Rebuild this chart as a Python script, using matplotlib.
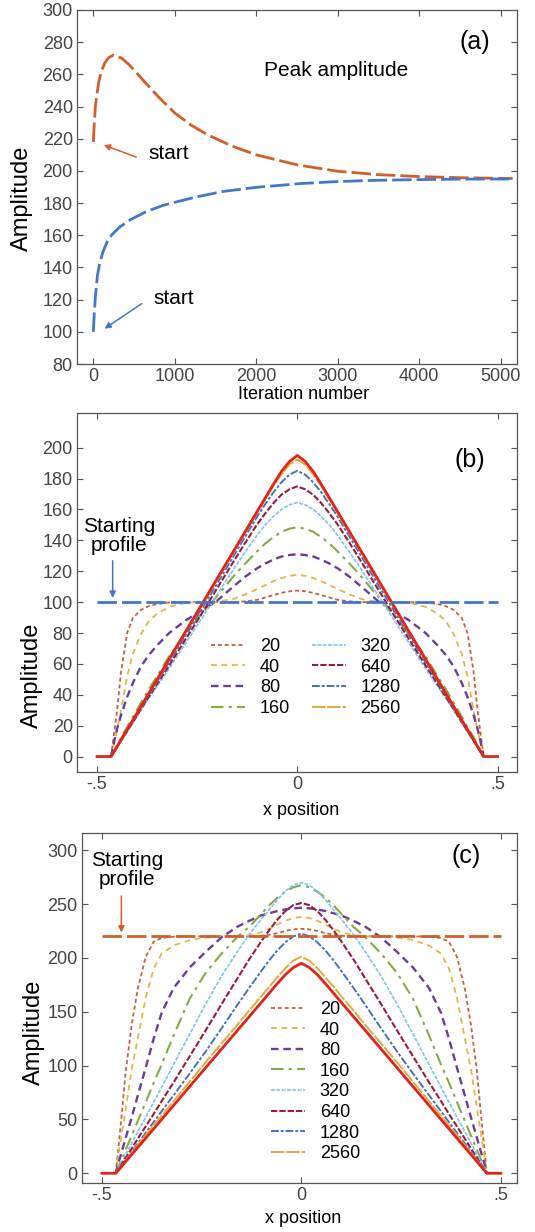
import matplotlib.pyplot as plt

plt.rcParams['font.family'] = ['Liberation Sans', 'DejaVu Sans']

# ---- panel (a): peak amplitude vs iteration ----
iter_high = [0, 10, 25, 45, 70, 100, 140, 190, 250, 350, 450, 600, 800, 1000, 1200,
             1400, 1700, 2000, 2500, 3000, 3500, 4000, 4500, 5000, 5150]
peak_high = [218, 228, 240, 248, 256, 262, 267, 270.5, 272, 270, 265.5, 257, 246, 236, 228.5,
             222.5, 215.5, 210, 203.8, 199.8, 197.7, 196.5, 195.8, 195.4, 195.3]
iter_low = [0, 10, 25, 50, 80, 120, 170, 230, 320, 450, 640, 850, 1000, 1280, 1600,
            2000, 2560, 3000, 3500, 4000, 4500, 5150]
peak_low = [100, 110, 122, 135, 143, 150, 156, 160.5, 165, 169.5, 174.5, 178.5, 180.5, 184, 187.3,
            189.8, 192.2, 193.4, 194.2, 194.6, 194.9, 195]

# ---- profiles: half profiles (x >= 0), mirrored for x < 0 ----
x_half = [0, 0.02, 0.04, 0.06, 0.08, 0.10, 0.13, 0.16, 0.20, 0.24, 0.28, 0.32,
          0.35, 0.37, 0.39, 0.41, 0.425, 0.44, 0.45, 0.458, 0.465]
iterations = ['20', '40', '80', '160', '320', '640', '1280', '2560']

final_profile = [195, 191, 184.5, 176.2, 167.5, 158.8, 145.7, 132.7, 115.3, 97.9, 80.5, 63.1,
                 50, 41.3, 32.6, 23.9, 17.4, 10.9, 6.5, 3, 0]

b_start = 100
b_20 = [107.5, 107, 106, 104.5, 103, 101.5, 100.5, 100, 100, 100, 100, 99.8,
        98.8, 97.5, 95, 90, 80, 55, 30, 14, 0]
b_40 = [117.6, 117, 115.5, 113.5, 111, 108.5, 105, 102, 100.3, 100, 99.5, 97,
        92.5, 88, 79.5, 67, 52, 30, 17, 8, 0]
b_80 = [131, 130.5, 129.5, 127.5, 125, 122, 116.5, 110, 101, 94.5, 88, 80,
        72, 66, 58.5, 48, 38.5, 27, 18, 9, 0]
b_160 = [148.5, 147.5, 145.5, 142, 138, 133, 125, 116.5, 104, 92, 79, 65,
         52, 44, 35, 26, 19, 12.5, 7.5, 3.5, 0]
b_320 = [164.5, 163, 160, 155.5, 150, 143.5, 132.5, 121, 105, 89, 73, 57,
         45.5, 38, 30, 22, 16, 10, 6, 2.7, 0]
b_640 = [175, 173, 169.5, 164, 157.5, 150.5, 138.5, 126, 109, 92, 75.5, 59,
         47, 39, 31, 22.5, 16.4, 10.3, 6.2, 2.8, 0]
b_1280 = [185, 182.5, 177.5, 171, 163.5, 155.5, 142.5, 129.5, 112, 95, 78, 61,
          48.5, 40, 31.5, 23, 16.8, 10.5, 6.3, 2.9, 0]
b_2560 = [192.5, 189, 182.5, 175, 166.5, 158, 145, 132, 114.5, 97, 80, 62.5,
          49.5, 41, 32.3, 23.7, 17.2, 10.8, 6.5, 3, 0]

c_start = 220
c_20 = [227, 226.5, 225, 223, 221.5, 220.5, 220, 220, 220, 220, 220, 219.7,
        218.5, 215, 201, 171, 138, 95, 55, 25, 0]
c_40 = [238, 237, 234.5, 231, 227, 224, 221, 220, 219.8, 218.8, 216.5, 211.5,
        204, 190, 163, 125, 97, 60, 37, 18, 0]
c_80 = [246.5, 246, 245, 243.5, 241.5, 239.5, 234.5, 229, 219, 205.5, 191, 172,
        149, 125, 98, 72, 52, 33, 20, 10, 0]
c_160 = [267.5, 265.5, 261.5, 256, 249, 241, 229, 219.5, 204, 186, 162, 128,
         101, 84, 66, 48.5, 35, 22, 13, 6, 0]
c_320 = [270, 267.5, 262, 254, 245, 236, 222, 206, 183, 157, 129, 101,
         80, 66, 52, 38.5, 28, 17.5, 10.5, 5, 0]
c_640 = [251, 249, 243.5, 235.5, 226, 215.5, 199, 181, 157, 132.5, 108.5, 84.5,
         67, 55, 43.5, 32, 23, 14.5, 8.5, 4, 0]
c_1280 = [222.5, 220, 214.5, 207, 198, 188, 172.5, 156.5, 134.5, 113, 92.5, 72.5,
          57.5, 47.5, 37.5, 27.5, 20, 12.5, 7.5, 3.5, 0]
c_2560 = [201, 197.5, 190.5, 182, 173.5, 164.5, 151.5, 138, 120.5, 103, 85, 67,
          53.5, 44.5, 35.5, 26, 19, 12, 7, 3.2, 0]

domain = [-0.5, 0.5]

colors = ['#c4623e', '#e8b347', '#6b3d97', '#87aa45', '#7fc4ee', '#9c1b3c', '#4373bf', '#e6aa3c']
styles = [(0, (2.2, 1.6)), (0, (3.2, 2.6)), (0, (3.2, 2)), (0, (6, 2.5, 1.5, 2.5)),
          (0, (2.4, 0.8)), (0, (3, 1)), (0, (4, 1, 1.5, 1)), (0, (7, 0.8))]
widths = [1.3, 1.3, 1.7, 1.5, 1.2, 1.5, 1.4, 1.4]
red = '#e2231a'
blue_a = '#4477c8'
orange_a = '#cf5f2c'
spine_col = '#555555'
tick_col = '#444444'


def mirror(half):
    return half[::-1] + half[1:]


x_full = [-v for v in x_half[::-1]] + x_half[1:]
x_red = [domain[0]] + x_full + [domain[1]]
y_red = [0] + mirror(final_profile) + [0]


def style_axes(ax):
    for s in ax.spines.values():
        s.set_color(spine_col)
        s.set_linewidth(0.9)
    ax.tick_params(direction='in', length=4, width=0.8, color=spine_col,
                   top=True, right=True, labelsize=13, labelcolor=tick_col, pad=3)


fig = plt.figure(figsize=(5.35, 12.32), dpi=100)

# ---------------- (a) ----------------
ax = fig.add_axes([0.144, 0.7045, 0.822, 0.2874])
ax.plot(iter_high, peak_high, color=orange_a, lw=2, linestyle=(0, (7, 1.8)))
ax.plot(iter_low, peak_low, color=blue_a, lw=2, linestyle=(0, (7, 1.8)))
ax.set_xlim(-200, 5200)
ax.set_ylim(80, 300)
ax.set_xticks(range(0, 5001, 1000))
ax.set_yticks(range(80, 301, 20))
style_axes(ax)
ax.set_ylabel('Amplitude', fontsize=17)
ax.yaxis.set_label_coords(-0.10, 0.469)
ax.set_xlabel('Iteration number', fontsize=13)
ax.xaxis.set_label_coords(0.514, -0.062)
ax.text(4684, 280, '(a)', fontsize=18, ha='center', va='center')
ax.text(2979, 262.7, 'Peak amplitude', fontsize=15, ha='center', va='center')
ax.text(921, 211, 'start', fontsize=15, ha='center', va='center')
ax.text(984, 121, 'start', fontsize=15, ha='center', va='center')
ax.annotate('', xy=(96, 216.7), xytext=(559, 208),
            arrowprops=dict(arrowstyle='-|>', color=orange_a, lw=1.1, mutation_scale=9))
ax.annotate('', xy=(109, 101), xytext=(622, 118.5),
            arrowprops=dict(arrowstyle='-|>', color=blue_a, lw=1.1, mutation_scale=9))

# ---------------- (b) ----------------
ax = fig.add_axes([0.144, 0.3734, 0.822, 0.2914])
b_series = [b_20, b_40, b_80, b_160, b_320, b_640, b_1280, b_2560]
for lab, ys, c, ls, lw in zip(iterations, b_series, colors, styles, widths):
    ax.plot(x_full, mirror(ys), color=c, linestyle=ls, lw=lw, label=lab)
ax.plot(x_red, y_red, color=red, lw=2.0)
ax.plot(domain, [b_start, b_start], color=blue_a, lw=2, linestyle=(0, (7, 1.8)))
ax.set_xlim(-0.55, 0.548)
ax.set_ylim(-10, 222.5)
ax.set_xticks([-0.5, 0, 0.5])
ax.set_xticklabels(['-.5', '0', '.5'])
ax.set_yticks(range(0, 201, 20))
style_axes(ax)
ax.set_ylabel('Amplitude', fontsize=17)
ax.yaxis.set_label_coords(-0.077, 0.27)
ax.set_xlabel('x position', fontsize=13)
ax.xaxis.set_label_coords(0.51, -0.083)
ax.text(0.431, 192, '(b)', fontsize=18, ha='center', va='center')
ax.text(-0.444, 143, 'Starting\nprofile', fontsize=15, ha='center', va='center', linespacing=1.0)
ax.annotate('', xy=(-0.461, 101), xytext=(-0.461, 128.6),
            arrowprops=dict(arrowstyle='-|>', color=blue_a, lw=1.1, mutation_scale=9))
ax.legend(ncol=2, loc='upper left', bbox_to_anchor=(0.305, 0.373), frameon=False,
          fontsize=13, handlelength=1.9, handletextpad=0.8, columnspacing=1.2,
          labelspacing=0.2, borderpad=0, borderaxespad=0)

# ---------------- (c) ----------------
ax = fig.add_axes([0.153, 0.0398, 0.813, 0.2841])
c_series = [c_20, c_40, c_80, c_160, c_320, c_640, c_1280, c_2560]
for lab, ys, c, ls, lw in zip(iterations, c_series, colors, styles, widths):
    ax.plot(x_full, mirror(ys), color=c, linestyle=ls, lw=lw, label=lab)
ax.plot(x_red, y_red, color=red, lw=2.0)
ax.plot(domain, [c_start, c_start], color=orange_a, lw=2, linestyle=(0, (7, 1.8)))
ax.set_xlim(-0.55, 0.54)
ax.set_ylim(-9, 316)
ax.set_xticks([-0.5, 0, 0.5])
ax.set_xticklabels(['-.5', '0', '.5'])
ax.set_yticks(range(0, 301, 50))
style_axes(ax)
ax.set_ylabel('Amplitude', fontsize=17)
ax.yaxis.set_label_coords(-0.085, 0.429)
ax.set_xlabel('x position', fontsize=13)
ax.xaxis.set_label_coords(0.509, -0.077)
ax.text(0.414, 295, '(c)', fontsize=18, ha='center', va='center')
ax.text(-0.436, 282, 'Starting\nprofile', fontsize=15, ha='center', va='center', linespacing=1.0)
ax.annotate('', xy=(-0.451, 221), xytext=(-0.451, 260),
            arrowprops=dict(arrowstyle='-|>', color=orange_a, lw=1.1, mutation_scale=9))
ax.legend(ncol=1, loc='upper left', bbox_to_anchor=(0.435, 0.52), frameon=False,
          fontsize=13, handlelength=1.9, handletextpad=0.8,
          labelspacing=0.2, borderpad=0, borderaxespad=0)

fig.savefig('out.png', dpi=100)
